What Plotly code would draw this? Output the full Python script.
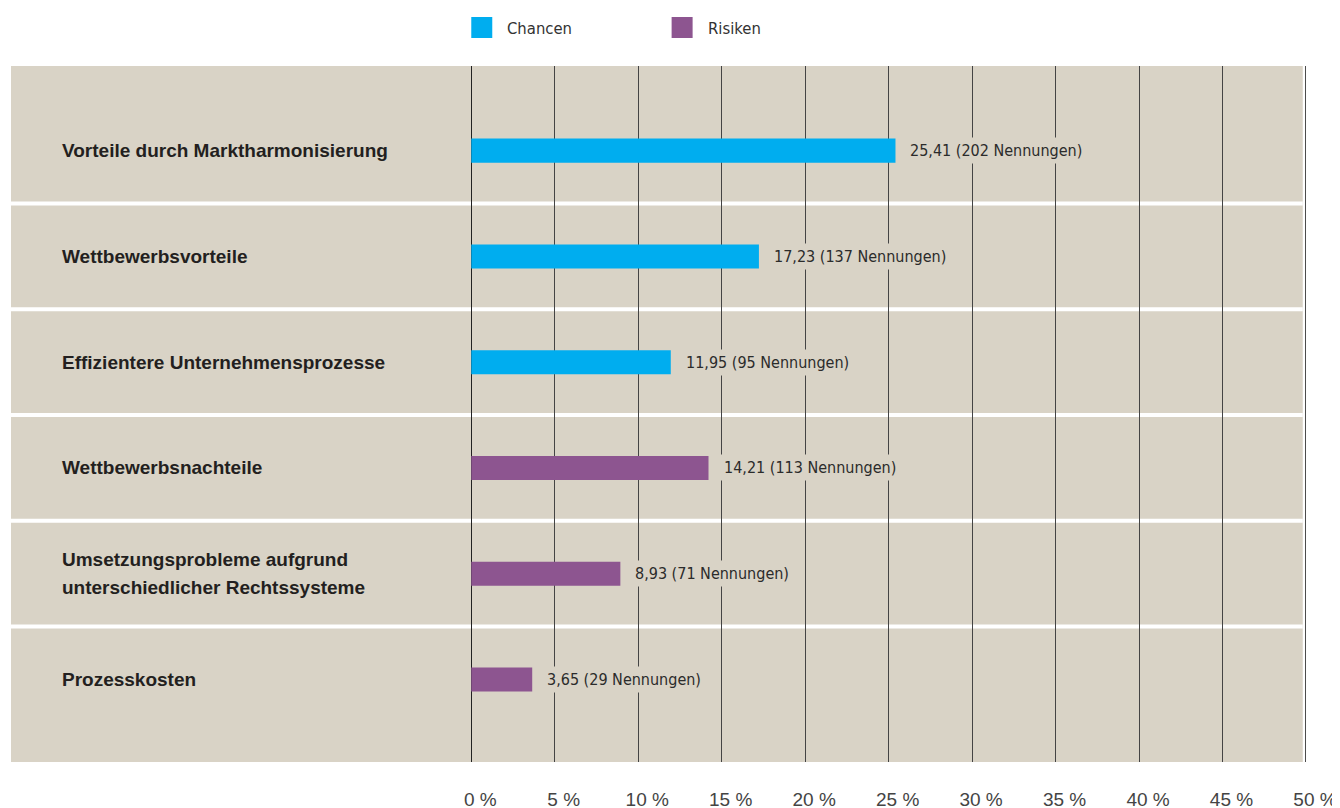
import plotly.graph_objects as go

categories = [
    "Vorteile durch Marktharmonisierung",
    "Wettbewerbsvorteile",
    "Effizientere Unternehmensprozesse",
    "Wettbewerbsnachteile",
    "Umsetzungsprobleme aufgrund<br>unterschiedlicher Rechtssysteme",
    "Prozesskosten",
]
values = [25.41, 17.23, 11.95, 14.21, 8.93, 3.65]
mentions = [202, 137, 95, 113, 71, 29]
groups = ["Chancen", "Chancen", "Chancen", "Risiken", "Risiken", "Risiken"]
tick_vals = [0, 5, 10, 15, 20, 25, 30, 35, 40, 45, 50]
tick_text = ["0 %", "5 %", "10 %", "15 %", "20 %", "25 %", "30 %", "35 %", "40 %", "45 %", "50 %"]

COLORS = {"Chancen": "#00adef", "Risiken": "#8d5590"}
BEIGE = "#d9d3c6"
NARROW = "DejaVu Sans Condensed, Liberation Sans Narrow, Arial Narrow, sans-serif"
SANS = "Liberation Sans, Arial, sans-serif"

fig = go.Figure()

for g in ["Chancen", "Risiken"]:
    idx = [i for i, gg in enumerate(groups) if gg == g]
    fig.add_trace(
        go.Bar(
            x=[values[i] for i in idx],
            y=[categories[i] for i in idx],
            orientation="h",
            name=g,
            marker=dict(color=COLORS[g], line=dict(width=0)),
            width=0.227,
            showlegend=False,
            hoverinfo="x+y",
        )
    )

annotations = []
# category labels on the left
for i, cat in enumerate(categories):
    lines = cat.split("<br>")
    n = len(lines)
    for k, line in enumerate(lines):
        annotations.append(
            dict(
                x=0, xref="paper", xanchor="left", xshift=49,
                y=cat, yref="y", yanchor="middle",
                yshift=((n - 1) / 2 - k) * 28,
                text="<b>" + line + "</b>", showarrow=False,
                font=dict(family=SANS, size=19, color="#231f20"),
            )
        )

# value labels next to bars
for cat, v, m in zip(categories, values, mentions):
    annotations.append(
        dict(
            x=v, xref="x", xanchor="left", xshift=11,
            y=cat, yref="y", yanchor="middle",
            text=f"{v:.2f}".replace(".", ",") + f" ({m} Nennungen)",
            showarrow=False, bgcolor=BEIGE, borderpad=3,
            font=dict(family=NARROW, size=16, color="#2b2b2b"),
        )
    )

# manual legend
shapes = []
for g, xpos in [("Chancen", 0), ("Risiken", 12)]:
    shapes.append(
        dict(
            type="rect", xref="x", xsizemode="pixel", xanchor=xpos, x0=0, x1=21,
            yref="paper", ysizemode="pixel", yanchor=1, y0=28, y1=49,
            fillcolor=COLORS[g], line=dict(width=0),
        )
    )
    annotations.append(
        dict(
            x=xpos, xref="x", xanchor="left", xshift=34,
            y=1, yref="paper", yanchor="middle", yshift=38,
            text=g, showarrow=False,
            font=dict(family=NARROW, size=16.5, color="#333333"),
        )
    )

# beige panel and white row separators
shapes.append(
    dict(type="rect", xref="paper", x0=0, x1=0.9975, yref="paper", y0=0, y1=1,
         fillcolor=BEIGE, line=dict(width=0), layer="below")
)
for i in range(len(categories) - 1):
    shapes.append(
        dict(type="line", xref="paper", x0=0, x1=0.9975, yref="y", y0=i + 0.5, y1=i + 0.5,
             line=dict(color="white", width=4), layer="below")
    )
shapes.append(
    dict(type="line", xref="x", x0=50, x1=50, yref="paper", y0=0, y1=1,
         line=dict(color="#111111", width=1.5))
)

# the page body adds an 8px margin, so margins are shifted by 8px
fig.update_layout(
    width=1340,
    height=808,
    margin=dict(l=3, r=42, t=58, b=54, autoexpand=False),
    plot_bgcolor="white",
    paper_bgcolor="white",
    barmode="overlay",
    showlegend=False,
    xaxis=dict(
        range=[-27.57, 50],
        tickvals=tick_vals,
        ticktext=tick_text,
        showgrid=True,
        gridcolor="#444444",
        gridwidth=1,
        zeroline=True,
        zerolinecolor="#222222",
        zerolinewidth=1,
        showline=False,
        ticks="",
        ticklabelstandoff=24,
        ticklabelshift=9,
        automargin=False,
        tickfont=dict(family=SANS, size=19, color="#444444"),
        fixedrange=True,
    ),
    yaxis=dict(
        type="category",
        categoryorder="array",
        categoryarray=categories,
        range=[5.78, -0.8],
        showticklabels=False,
        showgrid=False,
        zeroline=False,
        ticks="",
        automargin=False,
        fixedrange=True,
    ),
    annotations=annotations,
    shapes=shapes,
)

fig.write_html("out.html")
